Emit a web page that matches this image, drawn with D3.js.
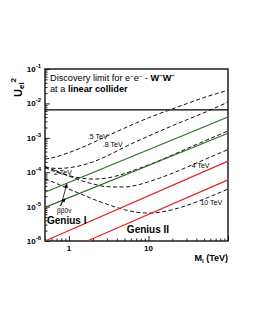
<!DOCTYPE html>
<meta charset="utf-8">
<script src="https://d3js.org/d3.v7.min.js"></script>
<style>
  body { margin: 0; background: #fff; }
  text { font-family: "Liberation Sans", Arial, sans-serif; }
</style>
<div id="my_dataviz"></div>
<script>

// heavy neutrino mass grid, TeV
var massGrid = [0.5, 0.7, 1, 1.5, 2, 3, 5, 7, 10, 20, 30, 50, 100];

// discovery limits, log10(U_el^2), one list per collider energy
var lim05 = [-3.62, -3.55, -3.43, -3.27, -3.14, -2.95, -2.72, -2.57, -2.42, -2.16, -2.01, -1.83, -1.62];
var lim08 = [-3.86, -3.89, -3.87, -3.79, -3.70, -3.53, -3.27, -3.11, -2.95, -2.65, -2.48, -2.27, -1.96];
var lim2  = [-3.87, -4.00, -4.10, -4.18, -4.20, -4.17, -4.04, -3.92, -3.79, -3.50, -3.32, -3.10, -2.80];
var lim4  = [-3.83, -3.97, -4.11, -4.26, -4.34, -4.42, -4.43, -4.38, -4.28, -4.03, -3.86, -3.64, -3.34];
var lim10 = [-4.19, -4.33, -4.49, -4.66, -4.78, -4.93, -5.09, -5.16, -5.19, -5.09, -4.97, -4.78, -4.49];
var limNames = [".5 TeV", ".8 TeV", "2 TeV", "4 TeV", "10 TeV"];

// 0vbb bounds (green) and Genius sensitivities (red), straight lines
var bbMass = [0.5, 100];
var bbUpper = [2.6e-5, 4.0e-3];
var bbLower = [9.5e-6, 1.35e-3];
var geniusIMass = [0.5, 100];
var geniusI = [1.0e-6, 2.1e-4];
var geniusIIMass = [1.7, 100];
var geniusII = [1.0e-6, 6.0e-5];

// present bound on U_el^2
var presentBound = 6.5e-3;

// axis ticks
var yExps = [-6, -5, -4, -3, -2, -1];
var xLabels = [1, 10];

var margin = {top: 69, right: 25, bottom: 86, left: 45},
    width = 253 - margin.left - margin.right,
    height = 327 - margin.top - margin.bottom;

var svg = d3.select("#my_dataviz")
  .append("svg")
    .attr("width", 253)
    .attr("height", 327)
  .append("g")
    .attr("transform", "translate(" + margin.left + "," + margin.top + ")");

var x = d3.scaleLog().domain([0.5, 100]).range([0, width]);
var y = d3.scaleLog().domain([1e-6, 1e-1]).range([height, 0]);

function isDecade(v) { return Math.abs(Math.log10(v) - Math.round(Math.log10(v))) < 1e-6; }

// axes, ticks inward
var yMinor = y.ticks().filter(function(v) { return !isDecade(v); });
svg.append("g")
  .call(d3.axisLeft(y).tickValues(yExps.map(function(e) { return Math.pow(10, e); })).tickSize(-5).tickFormat(""))
  .call(function(g) { g.select(".domain").remove(); });
svg.append("g")
  .call(d3.axisLeft(y).tickValues(yMinor).tickSize(-2.5).tickFormat(""))
  .call(function(g) { g.select(".domain").remove(); });

var xMinor = x.ticks().filter(function(v) { return !isDecade(v); });
svg.append("g")
  .attr("transform", "translate(0," + height + ")")
  .call(d3.axisBottom(x).tickValues([1, 10, 100]).tickSize(-5).tickFormat(""))
  .call(function(g) { g.select(".domain").remove(); });
svg.append("g")
  .attr("transform", "translate(0," + height + ")")
  .call(d3.axisBottom(x).tickValues(xMinor).tickSize(-2.5).tickFormat(""))
  .call(function(g) { g.select(".domain").remove(); });

svg.selectAll(".tick line").attr("stroke", "#222");

// frame
svg.append("rect")
  .attr("width", width).attr("height", height)
  .attr("fill", "none").attr("stroke", "#111").attr("stroke-width", 1.4);

// y tick labels 10^n
var yl = svg.selectAll(".ylab").data(yExps).enter().append("text")
  .attr("class", "ylab")
  .attr("x", -4)
  .attr("y", function(d) { return y(Math.pow(10, d)) + 3; })
  .attr("text-anchor", "end")
  .style("font-size", "8px").style("font-weight", "bold");
yl.append("tspan").text("10");
yl.append("tspan").attr("dy", -4).style("font-size", "6px").text(function(d) { return "-" + (-d); });

svg.selectAll(".xlab").data(xLabels).enter().append("text")
  .attr("x", function(d) { return x(d); })
  .attr("y", height + 10)
  .attr("text-anchor", "middle")
  .style("font-size", "8px").style("font-weight", "bold")
  .text(function(d) { return d; });

// axis titles
var xt = svg.append("text")
  .attr("x", width).attr("y", height + 20)
  .attr("text-anchor", "end")
  .style("font-size", "9px").style("font-weight", "bold");
xt.append("tspan").text("M");
xt.append("tspan").attr("dy", 2).style("font-size", "6px").text("l");
xt.append("tspan").attr("dy", -2).text(" (TeV)");

var yt = svg.append("text")
  .attr("transform", "translate(-23,28) rotate(-90)")
  .style("font-size", "11px").style("font-weight", "bold");
yt.append("tspan").text("U");
yt.append("tspan").attr("dy", 2).style("font-size", "8px").text("el");
yt.append("tspan").attr("dy", -8).style("font-size", "8px").text("2");

// present bound
svg.append("path")
  .datum(bbMass.map(function(m) { return [m, presentBound]; }))
  .attr("d", d3.line().x(function(d) { return x(d[0]); }).y(function(d) { return y(d[1]); }))
  .attr("stroke", "#000").attr("stroke-width", 1.4).attr("fill", "none");

// header text
var t1 = svg.append("text").attr("x", 5).attr("y", 11.5).style("font-size", "9.2px");
t1.append("tspan").text("Discovery limit for e");
t1.append("tspan").attr("dy", -3).style("font-size", "6px").text("\u2212");
t1.append("tspan").attr("dy", 3).text("e");
t1.append("tspan").attr("dy", -3).style("font-size", "6px").text("\u2212");
t1.append("tspan").attr("dy", 3).text(" - ");
t1.append("tspan").style("font-weight", "bold").text("W");
t1.append("tspan").attr("dy", -3).style("font-size", "6px").style("font-weight", "bold").text("\u2212");
t1.append("tspan").attr("dy", 3).style("font-weight", "bold").text("W");
t1.append("tspan").attr("dy", -3).style("font-size", "6px").style("font-weight", "bold").text("\u2212");
var t2 = svg.append("text").attr("x", 5).attr("y", 22.5).style("font-size", "9.2px");
t2.append("tspan").text("at a ");
t2.append("tspan").style("font-weight", "bold").text("linear collider");

var line = d3.line()
  .x(function(d) { return x(d[0]); })
  .y(function(d) { return y(d[1]); })
  .curve(d3.curveMonotoneX);

// dashed discovery curves
var limits = [lim05, lim08, lim2, lim4, lim10];
svg.selectAll(".lim").data(limits).enter().append("path")
  .attr("class", "lim")
  .attr("d", function(vals) { return line(massGrid.map(function(m, i) { return [m, Math.pow(10, vals[i])]; })); })
  .attr("fill", "none").attr("stroke", "#111").attr("stroke-width", 1)
  .attr("stroke-dasharray", "4,2.5");

// green 0vbb lines
[bbUpper, bbLower].forEach(function(vals) {
  svg.append("path")
    .attr("d", line(bbMass.map(function(m, i) { return [m, vals[i]]; })))
    .attr("fill", "none").attr("stroke", "#2a6e25").attr("stroke-width", 1.1);
});

// red Genius lines
svg.append("path")
  .attr("d", line(geniusIMass.map(function(m, i) { return [m, geniusI[i]]; })))
  .attr("fill", "none").attr("stroke", "#e3231f").attr("stroke-width", 1.2);
svg.append("path")
  .attr("d", line(geniusIIMass.map(function(m, i) { return [m, geniusII[i]]; })))
  .attr("fill", "none").attr("stroke", "#e3231f").attr("stroke-width", 1.2);

// curve labels
var labelPos = [[1.73, -3.03], [2.67, -3.27], [0.65, -4.08], [35, -3.88], [45, -4.95]];
svg.selectAll(".clab").data(limNames).enter().append("text")
  .attr("x", function(d, i) { return x(labelPos[i][0]); })
  .attr("y", function(d, i) { return y(Math.pow(10, labelPos[i][1])); })
  .style("font-size", "7px")
  .text(function(d) { return d; });

svg.append("text")
  .attr("x", x(0.71)).attr("y", y(Math.pow(10, -5.19)))
  .style("font-size", "6.5px")
  .text("\u03b2\u03b20\u03bd");

svg.append("text")
  .attr("x", x(0.53)).attr("y", y(Math.pow(10, -5.5)))
  .style("font-size", "10px").style("font-weight", "bold")
  .text("Genius I");
svg.append("text")
  .attr("x", x(5.35)).attr("y", y(Math.pow(10, -5.77)))
  .style("font-size", "10px").style("font-weight", "bold")
  .text("Genius II");

// arrows from the 0vbb label to the green lines
svg.append("defs").append("marker")
  .attr("id", "arr").attr("viewBox", "0 0 6 6").attr("refX", 5).attr("refY", 3)
  .attr("markerWidth", 5).attr("markerHeight", 5).attr("orient", "auto")
  .append("path").attr("d", "M0,0L6,3L0,6Z").attr("fill", "#000");
var arrows = [[[0.79, -4.98], [0.94, -4.35]], [[0.77, -4.98], [0.89, -4.77]]];
arrows.forEach(function(a) {
  svg.append("line")
    .attr("x1", x(a[0][0])).attr("y1", y(Math.pow(10, a[0][1])))
    .attr("x2", x(a[1][0])).attr("y2", y(Math.pow(10, a[1][1])))
    .attr("stroke", "#000").attr("stroke-width", 0.8)
    .attr("marker-end", "url(#arr)");
});

</script>
